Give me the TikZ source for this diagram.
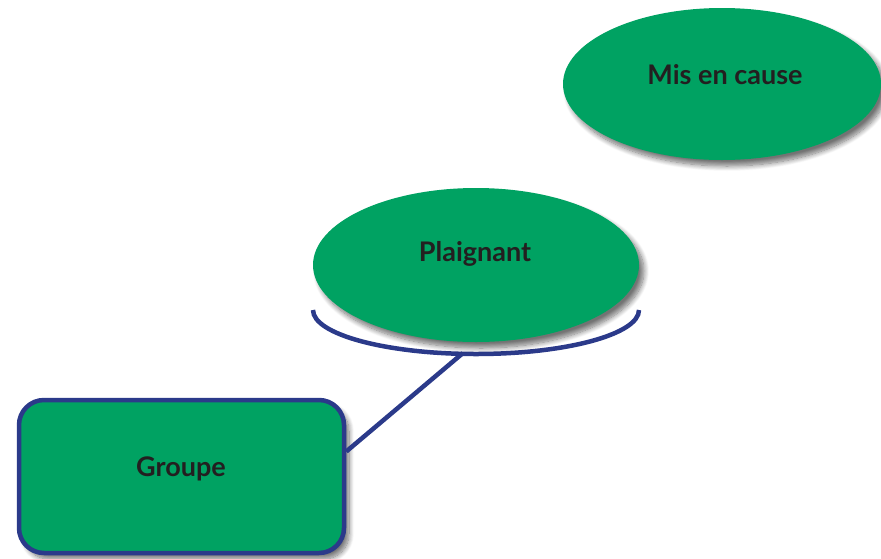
\documentclass[tikz,border=0pt]{standalone}
\usepackage{fontspec}
\setmainfont{Lato}
\usetikzlibrary{shapes.geometric,shadows.blur}
\definecolor{grn}{RGB}{0,162,98}
\definecolor{navy}{RGB}{43,58,138}
\definecolor{txt}{RGB}{35,31,32}
\begin{document}
\begin{tikzpicture}[x=1pt,y=-1pt,
  shad/.style={blur shadow={shadow xshift=5pt, shadow yshift=-6pt, shadow blur steps=10, shadow opacity=55, shadow blur radius=5pt}},
  oval/.style={ellipse, fill=grn, draw=none, inner sep=0pt, shad},
  gbox/.style={rectangle, rounded corners=25pt, fill=grn, draw=navy, line width=4.5pt, inner sep=0pt, minimum width=325pt, minimum height=153pt, shad},
  lbl/.style={font=\bfseries\fontsize{27}{30}\selectfont, text=txt, inner sep=0pt},
  conn/.style={draw=navy, line width=4.5pt}]
\useasboundingbox (0,0) rectangle (881,558);
% arc under Plaignant
\draw[conn] (313,310) arc[start angle=180, end angle=0, x radius=163, y radius=44];
\coordinate (arcb) at (463,353);
\node[gbox] (groupe) at (181.5,476.5) {};
\coordinate (gconn) at ([yshift=25pt]groupe.east);
\draw[conn] (arcb) -- (gconn);
\node[oval, minimum width=326pt, minimum height=154pt] (plaignant) at (476,265) {};
\node[oval, minimum width=318pt, minimum height=152pt] (misencause) at (722,84) {};
\node[lbl] (tp) at (475,254) {Plaignant};
\node[lbl] (tm) at (725,75) {Mis en cause};
\node[lbl] (tg) at (181,469) {Groupe};
\end{tikzpicture}
\end{document}
